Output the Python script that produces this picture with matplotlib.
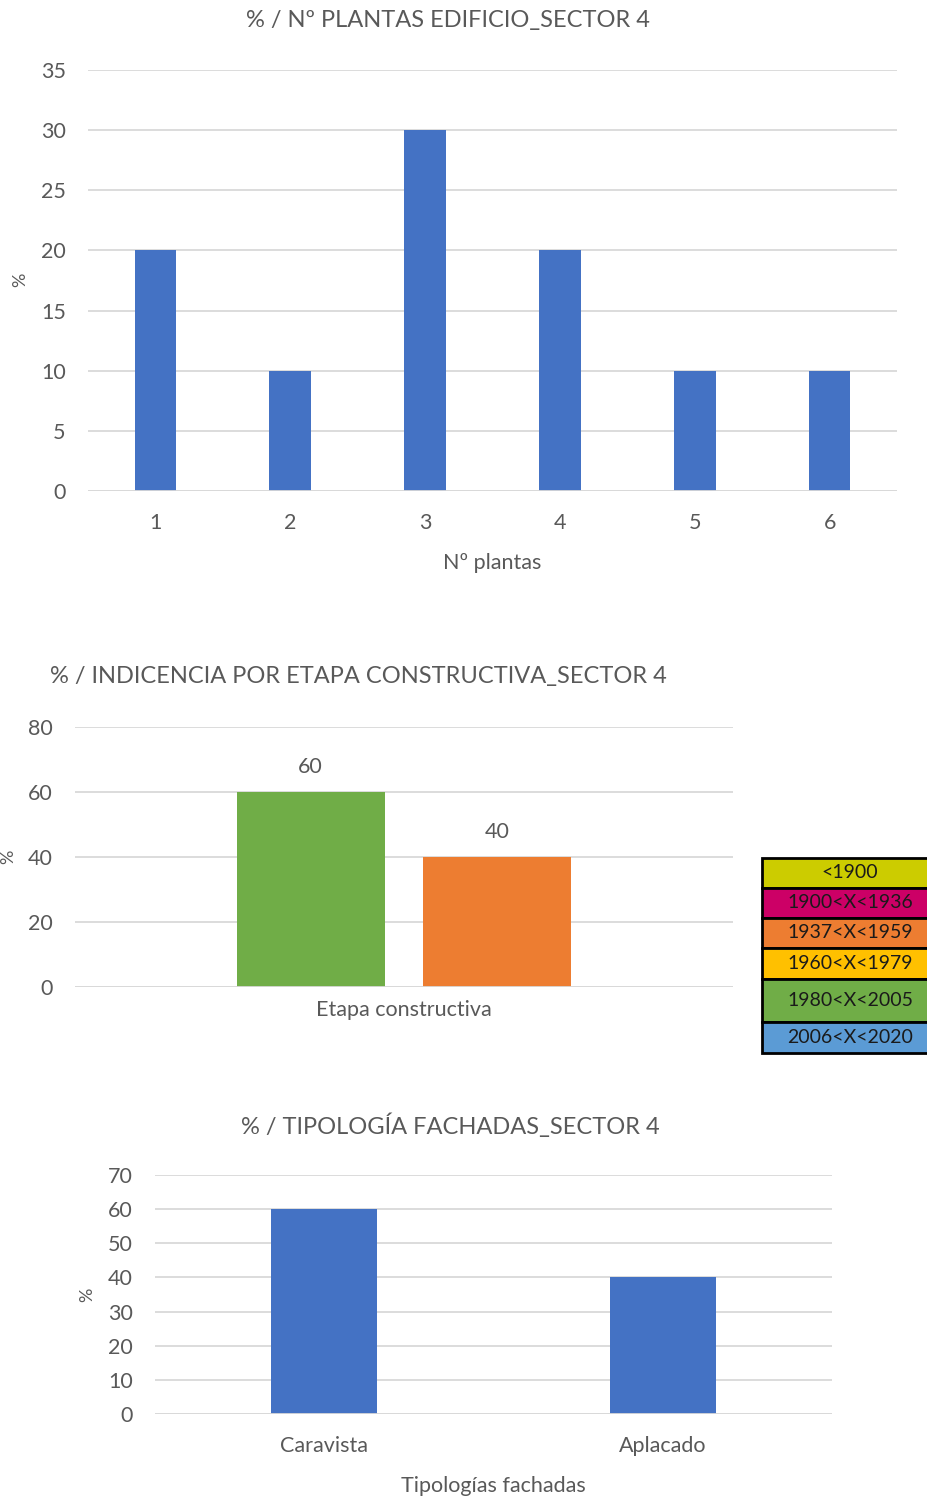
import matplotlib.pyplot as plt
import matplotlib
import numpy as np

plt.rcParams['font.family'] = ['Lato', 'DejaVu Sans']

W, H = 928, 1497

# chart 1 data
plantas = ['1', '2', '3', '4', '5', '6']
plantas_pct = [20, 10, 30, 20, 10, 10]

# chart 2 data
etapas = ['1980<X<2005', '1937<X<1959']
etapas_pct = [60, 40]
etapas_colors = ['#70AD47', '#ED7D31']

# legend table
leyenda = ['<1900', '1900<X<1936', '1937<X<1959', '1960<X<1979', '1980<X<2005', '2006<X<2020']
leyenda_colors = ['#CCCC00', '#CC0066', '#ED7D31', '#FFC000', '#70AD47', '#5B9BD5']

# chart 3 data
fachadas = ['Caravista', 'Aplacado']
fachadas_pct = [60, 40]

txt = '#595959'
grid = '#D9D9D9'
blue = '#4472C4'
fs = 15.5
fs_title = 17


def ax_px(fig, x0, y0, x1, y1):
    return fig.add_axes([x0 / W, 1 - y1 / H, (x1 - x0) / W, (y1 - y0) / H])


def style(ax):
    for s in ax.spines.values():
        s.set_visible(False)
    ax.yaxis.grid(True, color=grid, lw=1.3)
    ax.set_axisbelow(True)
    ax.tick_params(length=0, colors=txt, labelsize=fs)
    ax.tick_params(axis='y', pad=16)
    ax.axhline(0, color=grid, lw=1.3)


fig = plt.figure(figsize=(W / 100, H / 100), dpi=100)

# --- chart 1
ax1 = ax_px(fig, 88, 70, 897, 491)
x = np.arange(len(plantas))
ax1.bar(x, plantas_pct, 0.31, color=blue, zorder=2)
ax1.set_xlim(-0.5, len(plantas) - 0.5)
ax1.set_ylim(0, 35)
ax1.set_yticks(np.arange(0, 36, 5))
ax1.set_xticks(x)
ax1.set_xticklabels(plantas)
style(ax1)
ax1.tick_params(axis='x', pad=16)
ax1.set_xlabel('Nº plantas', color=txt, fontsize=fs, labelpad=14)
fig.text(20 / W, 1 - 280 / H, '%', rotation=90, color=txt, fontsize=13, ha='center', va='center')
fig.text(448 / W, 1 - 21 / H, '% / Nº PLANTAS EDIFICIO_SECTOR 4', color=txt, fontsize=fs_title, ha='center', va='center')

# --- chart 2
ax2 = ax_px(fig, 75, 727, 733, 987)
offs = [-0.142, 0.142]
bars = ax2.bar(offs, etapas_pct, 0.225, color=etapas_colors, zorder=2)
for b, v in zip(bars, etapas_pct):
    ax2.text(b.get_x() + b.get_width() / 2, v + 4.5, str(v), ha='center', va='bottom', color=txt, fontsize=fs)
ax2.set_xlim(-0.5, 0.5)
ax2.set_ylim(0, 80)
ax2.set_yticks(np.arange(0, 81, 20))
ax2.set_xticks([0])
ax2.set_xticklabels(['Etapa constructiva'])
style(ax2)
ax2.tick_params(axis='x', pad=9)
fig.text(8 / W, 1 - 857 / H, '%', rotation=90, color=txt, fontsize=13, ha='center', va='center')
fig.text(50 / W, 1 - 677 / H, '% / INDICENCIA POR ETAPA CONSTRUCTIVA_SECTOR 4', color=txt, fontsize=fs_title, ha='left', va='center')

# legend table
axl = ax_px(fig, 762, 858, 928, 1053)
bounds = [858, 888, 918, 948, 979, 1022, 1053]
axl.set_xlim(0, 1)
axl.set_ylim(bounds[-1], bounds[0])
axl.axis('off')
for i, (lab, c) in enumerate(zip(leyenda, leyenda_colors)):
    y0, y1 = bounds[i], bounds[i + 1]
    axl.add_patch(plt.Rectangle((0, y0), 1.2, y1 - y0, facecolor=c, edgecolor='black', lw=2, clip_on=False))
    axl.text(0.53, (y0 + y1) / 2, lab, ha='center', va='center', fontsize=14, color='#1a1a1a')

# --- chart 3
ax3 = ax_px(fig, 155, 1175, 832, 1414)
x3 = np.arange(len(fachadas))
ax3.bar(x3, fachadas_pct, 0.313, color=blue, zorder=2)
ax3.set_xlim(-0.5, len(fachadas) - 0.5)
ax3.set_ylim(0, 70)
ax3.set_yticks(np.arange(0, 71, 10))
ax3.set_xticks(x3)
ax3.set_xticklabels(fachadas)
style(ax3)
ax3.tick_params(axis='x', pad=16)
ax3.set_xlabel('Tipologías fachadas', color=txt, fontsize=fs, labelpad=14)
fig.text(87 / W, 1 - 1295 / H, '%', rotation=90, color=txt, fontsize=13, ha='center', va='center')
fig.text(450 / W, 1 - 1126 / H, '% / TIPOLOGÍA FACHADAS_SECTOR 4', color=txt, fontsize=fs_title, ha='center', va='center')

plt.savefig('out.png', dpi=100)
